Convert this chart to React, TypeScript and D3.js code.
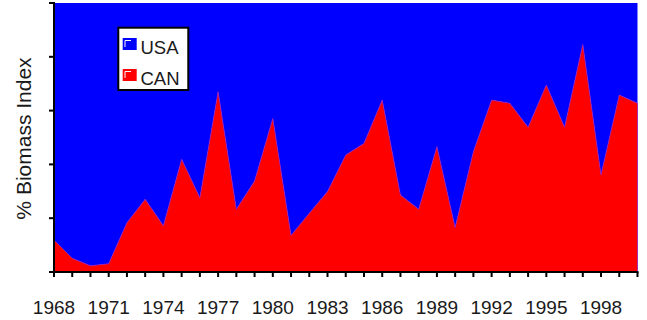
import React, { useEffect } from "react";
import * as d3 from "d3";

const years: number[] = [1968,1969,1970,1971,1972,1973,1974,1975,1976,1977,1978,1979,1980,1981,1982,1983,1984,1985,1986,1987,1988,1989,1990,1991,1992,1993,1994,1995,1996,1997,1998,1999,2000];
const canPct: number[] = [11.9,5.1,2.3,3.1,18.3,27.0,17.2,41.9,27.6,67.0,23.3,33.8,57.1,13.6,21.8,29.9,43.5,47.8,63.9,28.6,23.3,46.6,16.5,44.7,63.9,62.7,53.8,69.5,53.8,84.6,36.1,65.8,62.7];
const usaPct: number[] = canPct.map((v) => 100 - v);
const xTickYears: number[] = [1968,1971,1974,1977,1980,1983,1986,1989,1992,1995,1998];
const yTicks: number[] = [0,20,40,60,80,100];
const seriesNames: string[] = ["USA", "CAN"];
const seriesColors: string[] = ["#0000ff", "#ff0000"];

export default function App() {
  useEffect(() => {
    document.body.style.margin = "0";
  }, []);
  const W = 647, H = 320;
  const left = 54, right = 637.5, top = 3, bottom = 272;
  const x = d3.scaleLinear().domain([1968, 2000]).range([left, right]);
  const y = d3.scaleLinear().domain([0, 100]).range([bottom, top]);
  const rows = years.map((yr, i) => ({ year: yr, CAN: canPct[i], USA: usaPct[i] }));
  const stack = d3.stack<any>().keys(["CAN", "USA"]);
  const layers = stack(rows);
  const area = d3.area<any>().x((d) => x(d.data.year)).y0((d) => y(d[0])).y1((d) => y(d[1]));
  const colorOf: Record<string, string> = { USA: seriesColors[0], CAN: seriesColors[1] };
  const allYears = d3.range(1968, 2001);
  const font = "'Liberation Sans', Arial, sans-serif";
  return (
    <svg width={W} height={H} style={{ display: "block" }}>
      {layers.slice().reverse().map((l) => (
        <path key={l.key} d={area(l) || ""} fill={colorOf[l.key]}
          stroke={l.key === "CAN" ? "#8a1cc8" : "none"} strokeWidth={l.key === "CAN" ? 0.8 : 0} strokeLinejoin="round" />
      ))}
      <line x1={left} x2={left} y1={top - 1} y2={bottom + 1} stroke="#000" strokeWidth={2} />
      {yTicks.map((t) => (
        <line key={t} x1={left - 5} x2={left} y1={y(t)} y2={y(t)} stroke="#000" strokeWidth={2} />
      ))}
      <line x1={left - 1} x2={right + 1} y1={bottom} y2={bottom} stroke="#000" strokeWidth={2} />
      {allYears.map((t) => (
        <line key={t} x1={x(t)} x2={x(t)} y1={bottom} y2={bottom + 5} stroke="#000" strokeWidth={2} />
      ))}
      {xTickYears.map((t) => (
        <text key={t} x={x(t)} y={314} textAnchor="middle" fontFamily={font} fontSize={19} fill="#1a1a1a">{t}</text>
      ))}
      <text transform={`translate(31,${(top + bottom) / 2 + 1}) rotate(-90)`} textAnchor="middle" fontFamily={font} fontSize={21} fill="#1a1a1a">% Biomass Index</text>
      <rect x={118.3} y={27.7} width={70} height={62.3} fill="#fff" stroke="#000" strokeWidth={2} />
      {seriesNames.map((n, i) => {
        const sy = 38 + i * 31;
        return (
          <g key={n}>
            <rect x={122.7} y={sy} width={14} height={12} fill={seriesColors[i]} />
            <polyline points={`${125},${sy + 9} ${125},${sy + 2.5} ${131},${sy + 2.5}`} fill="none" stroke="#fff" strokeWidth={1} />
            <text x={140.5} y={sy + 15.5} fontFamily={font} fontSize={18.5} fill="#1a1a1a">{n}</text>
          </g>
        );
      })}
    </svg>
  );
}
